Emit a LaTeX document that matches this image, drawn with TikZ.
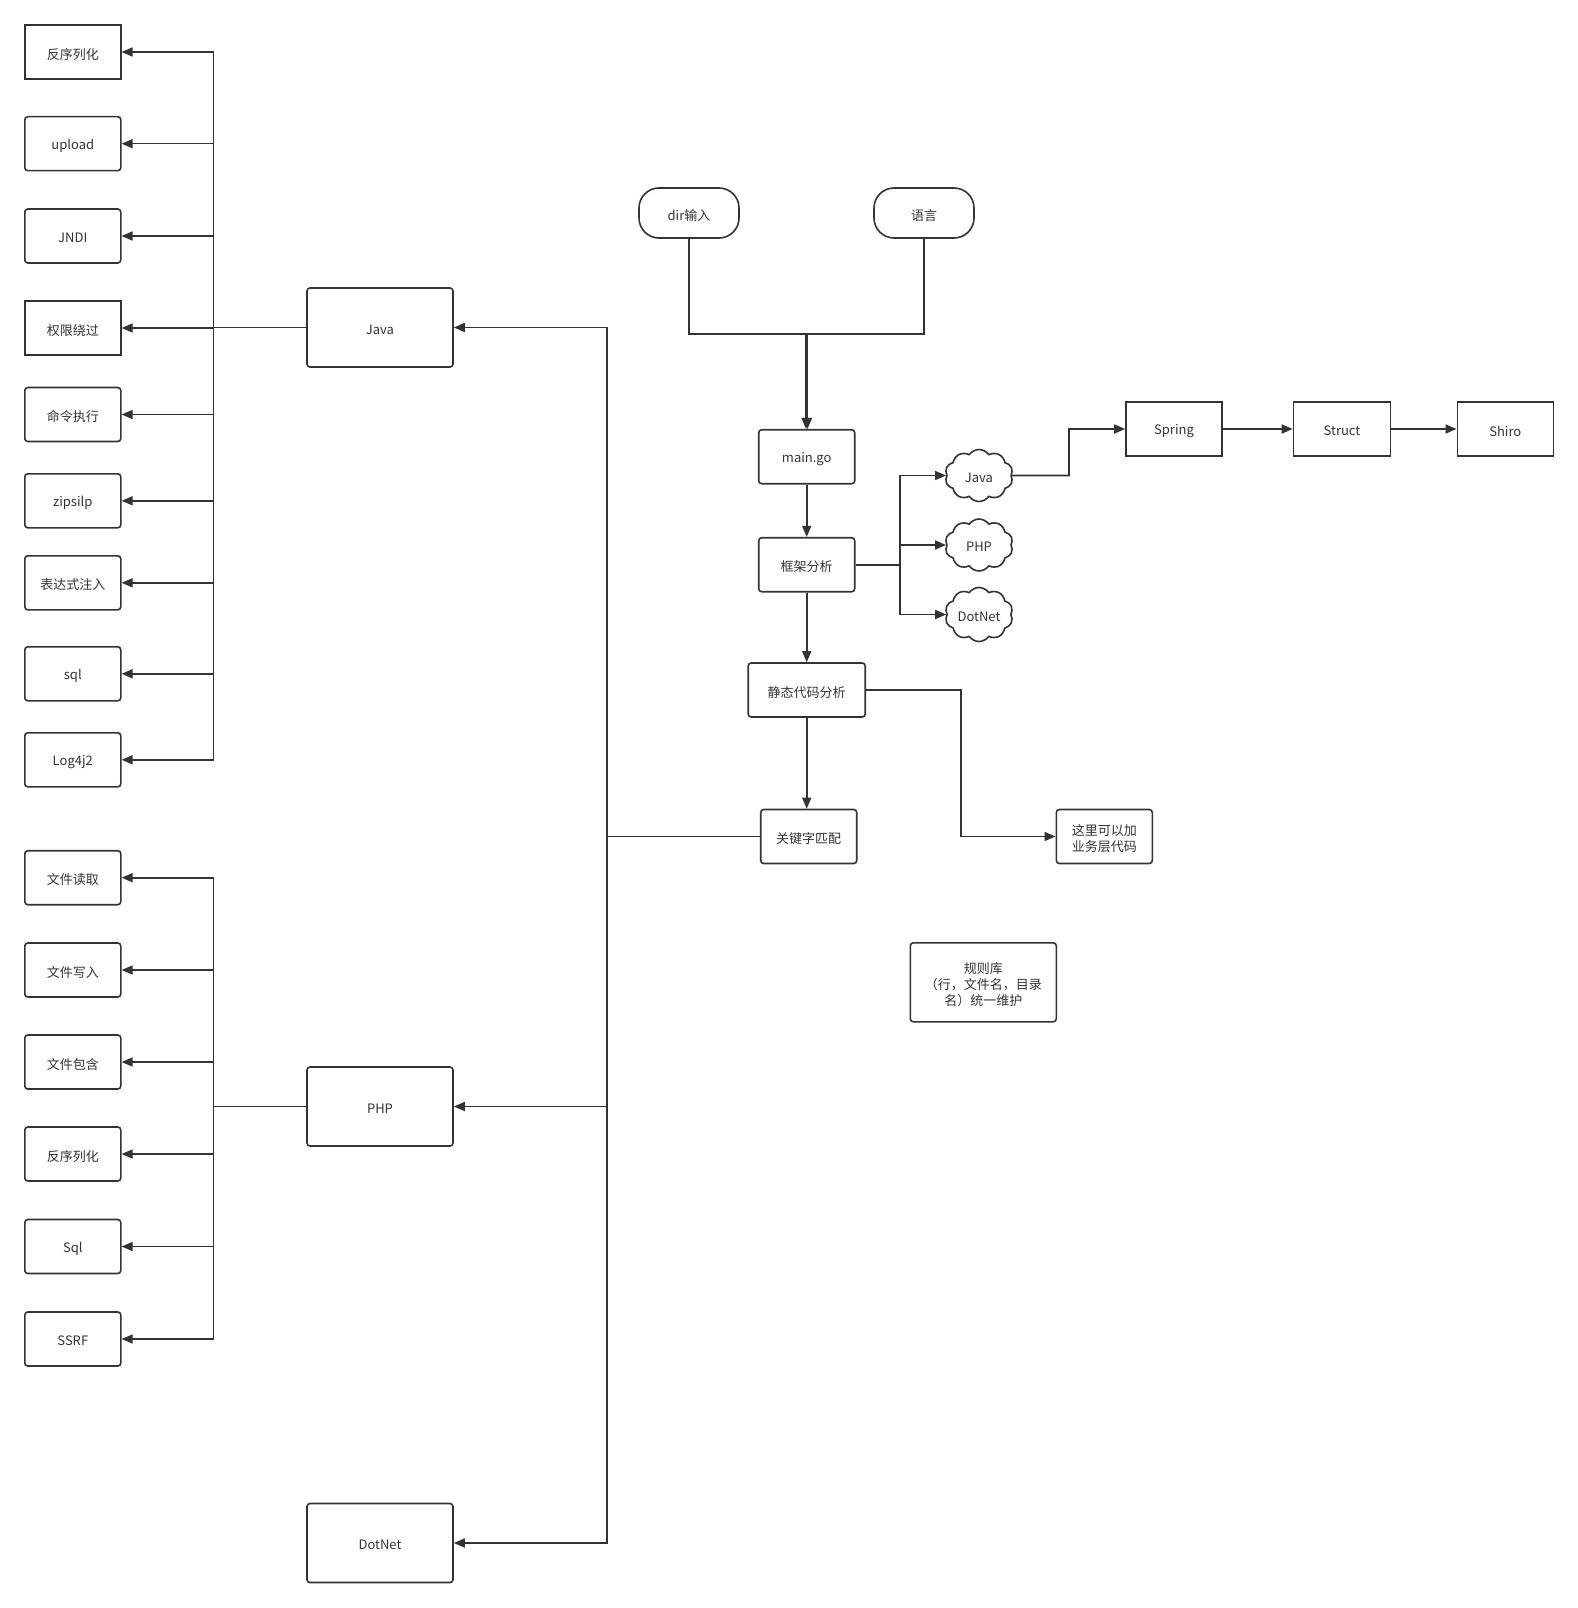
\documentclass[tikz,border=0pt]{standalone}
\usepackage{fontspec}
\setmainfont{Noto Sans CJK SC}
\usetikzlibrary{arrows.meta,shapes.symbols,positioning}
\definecolor{ln}{HTML}{333333}
\definecolor{tx}{HTML}{333333}
\newcommand\lw[1]{\raisebox{-2.2pt}[\height][\depth]{#1}}
\newcommand\ml[1]{\raisebox{-3.5pt}[\height][\depth]{\begin{tabular}{@{}c@{}}#1\end{tabular}}}
\begin{document}
\begin{tikzpicture}[x=1pt,y=-1pt,
  every node/.style={font=\fontsize{13pt}{16pt}\selectfont, text=tx},
  box/.style={draw=ln, line width=1.6pt, rounded corners=3pt, minimum width=96pt, minimum height=54pt, inner sep=2pt, align=center},
  sqbox/.style={box, rounded corners=0pt},
  bigbox/.style={box, minimum width=146pt, minimum height=79pt},
  pill/.style={draw=ln, line width=1.6pt, rounded corners=20pt, minimum width=100pt, minimum height=50pt},
  cl/.style={draw=ln, line width=1.6pt, cloud, cloud puffs=10, cloud puff arc=110, aspect=1.3, minimum width=68pt, minimum height=52pt, inner sep=0pt},
  arr/.style={draw=ln, line width=1.6pt, -{Triangle[length=11pt,width=9pt]}},
  ln/.style={draw=ln, line width=1.6pt}
]
\path[use as bounding box] (0,0) rectangle (1578,1608);

% left Java group
\node[sqbox] (j1) at (72.8,52) {\lw{反序列化}};
\node[box] (j2) at (72.8,143.7) {\lw{upload}};
\node[box] (j3) at (72.8,236) {\lw{JNDI}};
\node[sqbox] (j4) at (72.8,328) {\lw{权限绕过}};
\node[box] (j5) at (72.8,414.5) {\lw{命令执行}};
\node[box] (j6) at (72.8,500.8) {\lw{zipsilp}};
\node[box] (j7) at (72.8,582.8) {\lw{表达式注入}};
\node[box] (j8) at (72.8,673.8) {\lw{sql}};
\node[box] (j9) at (72.8,759.8) {\lw{Log4j2}};

% left PHP group
\node[box] (p1) at (72.8,877.7) {\lw{文件读取}};
\node[box] (p2) at (72.8,970) {\lw{文件写入}};
\node[box] (p3) at (72.8,1062) {\lw{文件包含}};
\node[box] (p4) at (72.8,1154) {\lw{反序列化}};
\node[box] (p5) at (72.8,1246.5) {\lw{Sql}};
\node[box] (p6) at (72.8,1339) {\lw{SSRF}};

% language boxes
\node[bigbox] (java) at (380,327.5) {\lw{Java}};
\node[bigbox] (php) at (380,1106.5) {\lw{PHP}};
\node[bigbox] (dotnet) at (380,1543) {\lw{DotNet}};

\coordinate (jb) at (213.3,327.5);
\coordinate (pb) at (213.3,1106.5);
\foreach \n in {j1,j2,j3,j4,j5,j6,j7,j8,j9}
  \draw[arr] (java.west) -- (jb) |- (\n.east);
\foreach \n in {p1,p2,p3,p4,p5,p6}
  \draw[arr] (php.west) -- (pb) |- (\n.east);

% top flow
\node[pill] (dir) at (689,213) {\lw{dir输入}};
\node[pill] (lang) at (924,213) {\lw{语言}};
\node[box] (main) at (806.7,456.7) {\lw{main.go}};
\node[box] (frame) at (806.7,564.7) {\lw{框架分析}};
\node[box, minimum width=117pt] (static) at (806.7,690) {\lw{静态代码分析}};
\node[box] (kw) at (808.7,836.5) {\lw{关键字匹配}};
\node[box] (biz) at (1104.3,836.5) {\ml{这里可以加\\业务层代码}};
\node[box, minimum width=146pt, minimum height=79pt] (rule) at (983.3,982.3) {\ml{规则库\\（行，文件名，目录\\名）统一维护}};

\coordinate (m1) at (806,333.7);
\coordinate (m2) at (807.5,333.7);
\draw[arr] (dir.south) |- (m1) -- (m1 |- main.north);
\draw[arr] (lang.south) |- (m2) -- (m2 |- main.north);
\draw[arr] (main.south) -- (frame.north);
\draw[arr] (frame.south) -- (static.north);
\draw[arr] (static.south) -- (static.south |- kw.north);

% clouds
\node[cl] (cj) at (979,475.5) {\lw{Java}};
\node[cl] (cp) at (979,545) {\lw{PHP}};
\node[cl] (cd) at (979,614.5) {\lw{DotNet}};
\coordinate (fb) at (900,564.7);
\draw[arr] (frame.east) -- (fb) |- (cj.west);
\draw[arr] (frame.east) -- (fb) |- (cp.west);
\draw[arr] (frame.east) -- (fb) |- (cd.west);

% framework chain
\node[sqbox] (spring) at (1174,429) {\lw{Spring}};
\node[sqbox, minimum width=97pt] (struct) at (1342,429) {\lw{Struct}};
\node[sqbox] (shiro) at (1505.3,429) {\lw{Shiro}};
\coordinate (sb) at (1069,475.5);
\draw[arr] (cj.east) -- (sb) |- (spring.west);
\draw[arr] (spring.east) -- (struct.west);
\draw[arr] (struct.east) -- (shiro.west);

% static -> biz
\coordinate (bb) at (960.7,690);
\draw[arr] (static.east) -- (bb) |- (biz.west);

% keyword trunk
\coordinate (tr) at (607,836.5);
\draw[arr] (kw.west) -- (tr) |- (java.east);
\draw[arr] (kw.west) -- (tr) |- (php.east);
\draw[arr] (kw.west) -- (tr) |- (dotnet.east);
\end{tikzpicture}
\end{document}
